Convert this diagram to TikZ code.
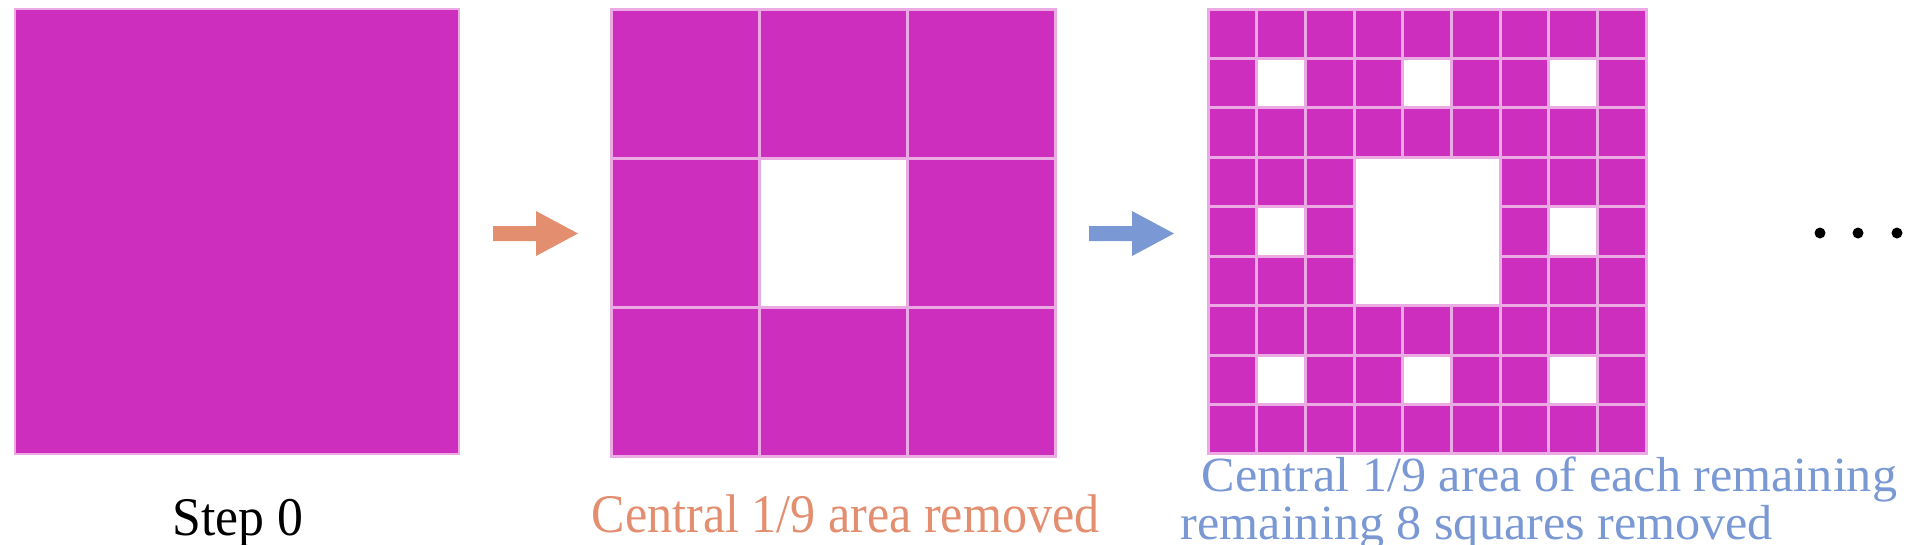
\documentclass[tikz,border=0pt]{standalone}
\usepackage{fontspec}
\setmainfont{Liberation Serif}
\usepackage{tikz}
\usetikzlibrary{calc}
\definecolor{carpet}{RGB}{205,46,189}
\definecolor{seam}{RGB}{236,170,228}
\definecolor{peach}{RGB}{228,142,112}
\definecolor{steel}{RGB}{122,152,212}
\def\blockarrow[#1](#2){\fill[#1] (#2,226) -- (#2+43,226) -- (#2+43,211) -- (#2+85,233.5) -- (#2+43,256) -- (#2+43,241) -- (#2,241) -- cycle;}
\def\tightlines{\fontsize{14}{13.66}\selectfont\lineskiplimit=-20pt\relax}
\tikzset{
	cellbox/.style={fill=carpet, draw=seam, line width=0.3mm},
	hole/.style={fill=white, draw=seam, line width=0.3mm},
	caption/.style={anchor=base west, inner sep=0pt, font=\fontsize{15.5}{18}\selectfont}
}

\begin{document}
\begin{tikzpicture}[x=0.1mm, y=-0.1mm]
		%%%%% START %%%%%
		\useasboundingbox (0, 0) rectangle (1908, 544);
		
		% step 0
		\draw[cellbox, line width=0.2mm] (15, 9) rectangle (459, 454);
		\node[caption, xscale=0.95] (step) at (172, 535) {Step 0};
		
		\blockarrow[peach](493);
		
		% step 1
		\foreach \i in {0,1,2}{
			\foreach \j in {0,1,2}{
				\draw[cellbox] (611+\i*148.33, 9+\j*149) rectangle ++(148.33, 149);
			}
		}
		\draw[hole] (611+148.33, 9+149) rectangle ++(148.33, 149);
		\node[caption, text=peach, xscale=0.92] (removed) at (591, 532) {Central 1/9 area removed};
		
		\blockarrow[steel](1089);
		
		% step 2
		\foreach \i in {0,...,8}{
			\foreach \j in {0,...,8}{
				\draw[cellbox] (1208+\i*48.67, 9+\j*49.44) rectangle ++(48.67, 49.44);
			}
		}
		\foreach \i/\j in {1/1, 4/1, 7/1, 1/4, 7/4, 1/7, 4/7, 7/7}{
			\draw[hole] (1208+\i*48.67, 9+\j*49.44) rectangle ++(48.67, 49.44);
		}
		\draw[hole] (1208+3*48.67, 9+3*49.44) rectangle ++(3*48.67, 3*49.44);
		\node[caption, text=steel, xscale=1.02, align=left, font=\tightlines] (each) at (1180, 539) {\hspace*{2.06mm}Central 1/9 area of each remaining\\remaining 8 squares removed};
		
		% and so on
		\foreach \x in {1820, 1858, 1897}{
			\fill[black] (\x, 233) circle (5.5);
		}
		
		%%%%% END %%%%%
	\end{tikzpicture}
\end{document}
